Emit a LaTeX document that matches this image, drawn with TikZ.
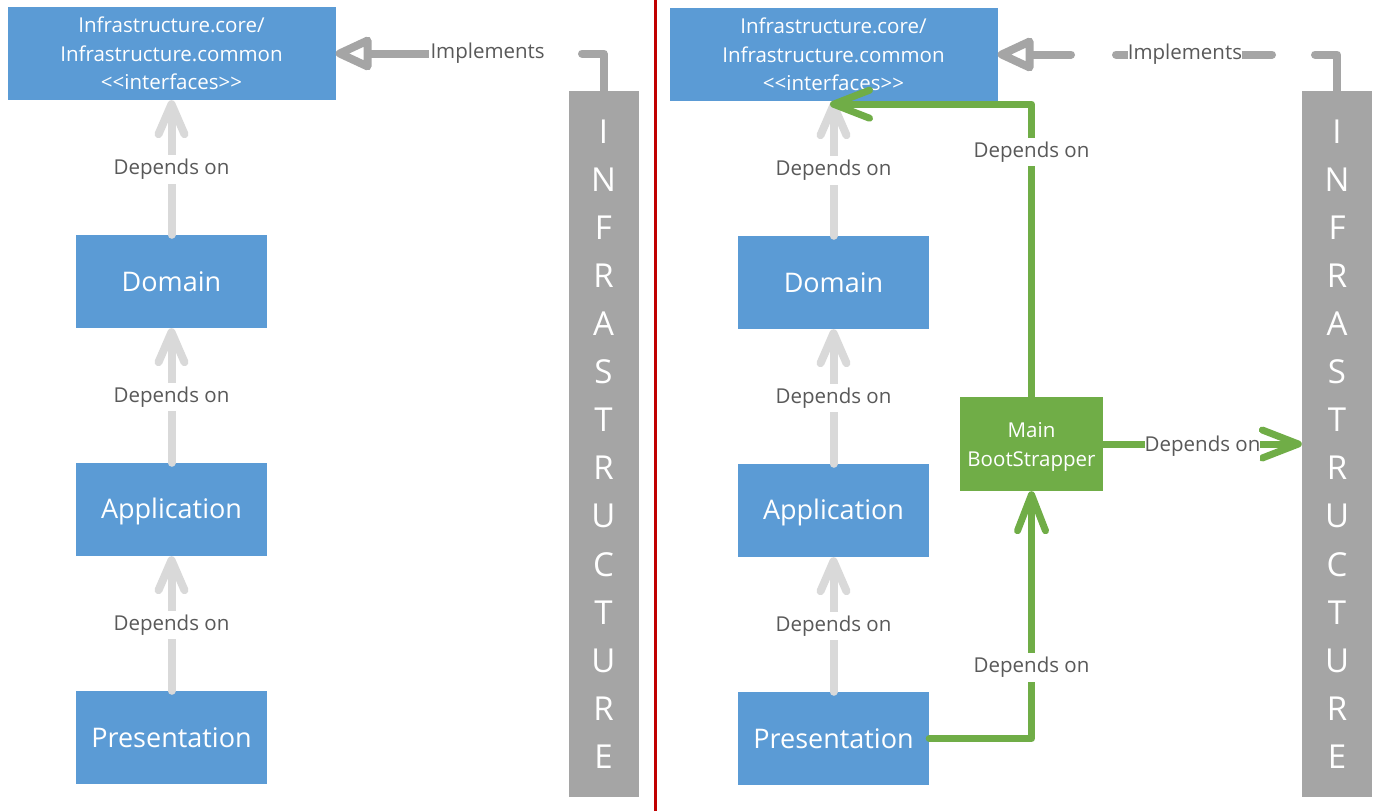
\documentclass[tikz,border=0pt]{standalone}
\usepackage{fontspec}
\setmainfont{Open Sans}
\usetikzlibrary{arrows.meta}
\definecolor{boxblue}{HTML}{5B9BD5}
\definecolor{boxgreen}{HTML}{70AD47}
\definecolor{bargray}{HTML}{A5A5A5}
\definecolor{lightarrow}{HTML}{D9D9D9}
\definecolor{labelgray}{HTML}{595959}
\definecolor{divred}{HTML}{C00000}
\begin{document}
\begin{tikzpicture}[x=1pt,y=-1pt,
  blk/.style={rectangle, fill=boxblue, text=white, inner sep=0pt,
    minimum width=191pt, minimum height=93pt, font=\fontsize{27}{32}\selectfont},
  appblk/.style={blk, text height=24.5pt, text depth=6.5pt},
  ifbox/.style={blk, minimum width=328pt, align=center,
    font=\fontsize{20.5}{28.5}\selectfont},
  bootbox/.style={rectangle, fill=boxgreen, inner sep=0pt,
    minimum width=143pt, minimum height=94pt},
  boottext/.style={text=white, align=center, inner sep=0pt, yshift=-3pt,
    font=\fontsize{20.5}{29}\selectfont},
  infrabar/.style={rectangle, fill=bargray, text=white, inner sep=0pt,
    minimum width=70pt, minimum height=706pt, align=center,
    font=\fontsize{33}{48.1}\selectfont},
  lbl/.style={fill=white, text=labelgray, font=\fontsize{20.5}{24}\selectfont,
    inner xsep=2pt, inner ysep=4pt},
  grayarrow/.style={draw=lightarrow, line width=8pt, line cap=round,
    -{Straight Barb[length=30pt,width=26pt,round]}},
  greenarrow/.style={draw=boxgreen, line width=7pt, line cap=round, line join=round,
    -{Straight Barb[length=36pt,width=28pt,round]}},
  implline/.style={draw=bargray, line width=8pt, line cap=round, line join=round},
  implarrow/.style={implline,
    -{Triangle[open,fill=white,length=42pt,width=36pt,round]}}
]
\useasboundingbox (0,0) rectangle (1380,811);
\fill[white] (0,0) rectangle (1380,811);

% ---------- left panel ----------
\node[ifbox] (ifL) at (171.5,53.5) {Infrastructure.core/\\Infrastructure.common\\<{}<interfaces>{}>};
\node[blk] (domL) at (171.5,281.5) {Domain};
\node[appblk] (appL) at (171.5,509.5) {Application};
\node[blk] (presL) at (171.5,737.5) {Presentation};
\node[infrabar] (infraL) at (603.5,444) {I\\N\\F\\R\\A\\S\\T\\R\\U\\C\\T\\U\\R\\E};

\draw[grayarrow] (domL.north) -- node[lbl,midway,yshift=-2pt]{Depends on} (ifL.south);
\draw[grayarrow] (appL.north) -- node[lbl,midway,yshift=-1.5pt]{Depends on} (domL.south);
\draw[grayarrow] (presL.north) -- node[lbl,midway,yshift=-1.5pt]{Depends on} (appL.south);

\coordinate (iL1) at (582,53.5);
\coordinate (iL2) at (541,53.5);
\draw[implline] (infraL.north) |- (iL1);
\draw[implarrow] (iL2) -- node[lbl,pos=0.26,inner ysep=2pt]{Implements} (ifL.east);

% ---------- divider ----------
\draw[divred, line width=3pt] (655,0) -- (655,811);

% ---------- right panel ----------
\node[ifbox] (ifR) at (833.5,54.5) {Infrastructure.core/\\Infrastructure.common\\<{}<interfaces>{}>};
\node[blk] (domR) at (833.5,282.5) {Domain};
\node[appblk] (appR) at (833.5,510.5) {Application};
\node[blk] (presR) at (833.5,738.5) {Presentation};
\node[bootbox] (boot) at (1031.5,444) {};
\node[boottext] (boottxt) at (boot.center) {Main\\BootStrapper};
\node[infrabar] (infraR) at (1337,444) {I\\N\\F\\R\\A\\S\\T\\R\\U\\C\\T\\U\\R\\E};
\coordinate (ifRin) at ([xshift=-3.5pt,yshift=-3pt]ifR.south);

\draw[grayarrow] (domR.north) -- node[lbl,midway,yshift=-2pt]{Depends on} (ifR.south);
\draw[grayarrow] (appR.north) -- node[lbl,midway,yshift=-1.5pt]{Depends on} (domR.south);
\draw[grayarrow] (presR.north) -- node[lbl,midway,yshift=-1.5pt]{Depends on} (appR.south);

\coordinate (iR1) at (1315,54.5);
\coordinate (iR2) at (1272,54.5);
\coordinate (iR3) at (1116,54.5);
\coordinate (iR4) at (1071,54.5);
\draw[implline] (infraR.north) |- (iR1);
\draw[implline] (iR2) -- node[lbl,pos=0.558,inner xsep=0pt,inner ysep=2pt]{Implements} (iR3);
\draw[implarrow] (iR4) -- (ifR.east);

\draw[greenarrow] (boot.north) |- node[lbl,pos=0.4215,yshift=-2pt]{Depends on} (ifRin);
\draw[greenarrow] (presR.east) -| node[lbl,pos=0.648,yshift=-2pt]{Depends on} (boot.south);
\draw[greenarrow] (boot.east) -- node[lbl,midway,inner xsep=0pt,yshift=-2pt]{Depends on} (infraR.west);
\end{tikzpicture}
\end{document}
